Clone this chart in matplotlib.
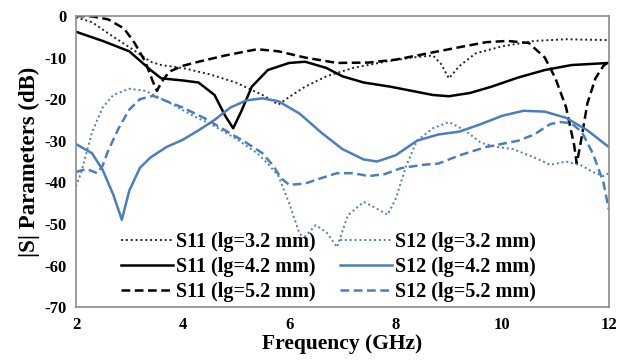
import matplotlib.pyplot as plt

plt.rcParams['font.family'] = ['Liberation Serif', 'DejaVu Serif']
plt.rcParams['font.weight'] = 'bold'
plt.rcParams['axes.unicode_minus'] = False

blue = '#4a7ebf'

# S11, lg=3.2 mm
f_s11_32 = [2.0, 2.3, 2.7, 3.0, 3.4, 3.6, 4.0, 4.5, 5.0, 5.5, 5.8, 6.0, 6.3, 6.7, 7.2,
            7.8, 8.3, 8.7, 8.85, 9.0, 9.2, 9.5, 10.0, 10.6, 11.2, 12.0]
s11_32 = [-0.3, -1.5, -5, -7.5, -11, -11.8, -12.5, -14, -16, -19, -21.3, -19.5, -17, -14.5, -12.5,
          -11, -10, -9.5, -11.5, -15, -12, -9, -7.3, -6, -5.6, -5.8]

# S11, lg=4.2 mm
f_s11_42 = [2.0, 2.5, 3.0, 3.4, 3.6, 4.0, 4.3, 4.6, 4.8, 4.95, 5.1, 5.3, 5.6, 6.0, 6.3, 6.7,
            7.0, 7.4, 7.9, 8.3, 8.7, 9.0, 9.4, 9.8, 10.3, 10.8, 11.3, 12.0]
s11_42 = [-3.8, -6, -8.5, -13, -15, -15.5, -16, -19, -24, -27, -23, -17, -13, -11.3, -11, -12.5,
          -14.5, -16, -17, -18, -19, -19.3, -18.5, -17, -14.8, -13, -11.8, -11.3]

# S11, lg=5.2 mm
f_s11_52 = [2.0, 2.3, 2.6, 2.9, 3.1, 3.3, 3.45, 3.52, 3.6, 3.75, 4.0, 4.3, 4.8, 5.4, 5.8, 6.3,
            6.9, 7.5, 8.0, 8.6, 9.2, 9.7, 10.1, 10.5, 10.8, 11.0, 11.2, 11.35, 11.4, 11.48,
            11.6, 11.75, 11.9, 12.0]
s11_52 = [0, -0.1, -0.8, -3, -6.5, -11, -16, -18, -16, -13.4, -12, -11, -9.5, -8, -8.5, -10,
          -11.3, -11.2, -10.5, -9, -7.5, -6.3, -6, -6.5, -10, -15, -22, -31, -35.5, -30,
          -21, -15, -12, -11]

# S12, lg=3.2 mm
f_s12_32 = [2.0, 2.1, 2.3, 2.5, 2.7, 3.0, 3.3, 3.7, 4.2, 4.6, 5.0, 5.4, 5.6, 5.8, 6.0, 6.2,
            6.3, 6.5, 6.7, 6.9, 7.1, 7.4, 7.6, 7.85, 8.0, 8.2, 8.4, 8.7, 9.0, 9.3, 9.6, 9.9,
            10.2, 10.6, 10.9, 11.2, 11.5, 11.7, 11.9, 12.0]
s12_32 = [-41, -37.5, -28, -22, -19, -17.5, -18, -20.5, -24, -26.5, -29.5, -33, -35.5, -38.5, -45, -52.5,
          -53, -50.3, -52, -55.6, -48, -44.7, -46, -47.8, -44, -36, -30, -27, -25.5, -27.5, -30.5, -31.5,
          -32, -34, -35.8, -35, -36, -37.5, -38.5, -37.8]

# S12, lg=4.2 mm
f_s12_42 = [2.0, 2.3, 2.5, 2.7, 2.86, 3.0, 3.2, 3.4, 3.7, 4.0, 4.3, 4.6, 4.9, 5.2, 5.5, 5.8,
            6.2, 6.6, 7.0, 7.4, 7.65, 8.0, 8.4, 8.8, 9.2, 9.6, 10.0, 10.4, 10.8, 11.2, 11.6, 12.0]
s12_42 = [-30.8, -33, -37, -43, -49, -42, -36.5, -34, -31.5, -29.8, -27.5, -25, -22, -20.3, -19.8, -20.5,
          -23.5, -28, -32, -34.5, -35, -33.5, -30, -28.5, -27.8, -26, -24, -22.8, -23, -24.5, -27.5, -31.5]

# S12, lg=5.2 mm
f_s12_52 = [2.0, 2.2, 2.4, 2.5, 2.6, 2.8, 3.0, 3.2, 3.45, 3.7, 4.0, 4.4, 4.8, 5.2, 5.5, 5.7,
            5.85, 6.0, 6.3, 6.6, 6.9, 7.2, 7.5, 7.8, 8.1, 8.5, 8.8, 9.2, 9.7, 10.3, 10.6, 10.9,
            11.1, 11.3, 11.5, 11.7, 11.9, 12.0]
s12_52 = [-37.5, -36.8, -37.8, -36, -32.5, -27, -22.5, -20, -19.2, -20.5, -22, -24.5, -27.5, -30.5, -33, -36,
          -39, -40.6, -40.3, -39, -37.8, -37.8, -38.5, -38, -36.6, -35.8, -35.5, -33.5, -31.5, -30, -28.5, -26,
          -25.5, -25.8, -28, -33, -40, -46.5]

fig = plt.figure(figsize=(6.18, 3.63), dpi=100)
ax = fig.add_axes([0.123, 0.154, 0.862, 0.802])

ax.plot(f_s11_32, s11_32, color='#222222', lw=1.4, ls=(0, (1, 1.5)), label='S11 (lg=3.2 mm)')
ax.plot(f_s11_42, s11_42, color='black', lw=1.8, label='S11 (lg=4.2 mm)')
ax.plot(f_s11_52, s11_52, color='black', lw=1.8, ls=(0, (3.5, 1.8)), label='S11 (lg=5.2 mm)')
ax.plot(f_s12_32, s12_32, color=blue, lw=1.4, ls=(0, (1, 1.5)), label='S12 (lg=3.2 mm)')
ax.plot(f_s12_42, s12_42, color=blue, lw=1.8, label='S12 (lg=4.2 mm)')
ax.plot(f_s12_52, s12_52, color=blue, lw=1.8, ls=(0, (3.5, 1.8)), label='S12 (lg=5.2 mm)')

ax.set_xlim(2, 12)
ax.set_ylim(-70, 0)
ax.set_xticks([2, 4, 6, 8, 10, 12])
ax.set_yticks(range(-70, 1, 10))
ax.tick_params(length=0, labelsize=12, pad=7)
for s in ax.spines.values():
    s.set_color('#8c8c8c')
    s.set_linewidth(1.2)

ax.set_xlabel('Frequency (GHz)', fontsize=15.5, fontweight='bold', labelpad=1)
ax.set_ylabel('|S| Parameters (dB)', fontsize=16.5, fontweight='bold', labelpad=3)

ax.legend(loc='lower left', bbox_to_anchor=(0.05, -0.045), ncol=2, frameon=False,
          prop={'family': 'Liberation Serif', 'weight': 'bold', 'size': 14.5},
          handlelength=2.6, handletextpad=0.15, columnspacing=1.2, labelspacing=0.25)

fig.savefig('out.png', dpi=100)
